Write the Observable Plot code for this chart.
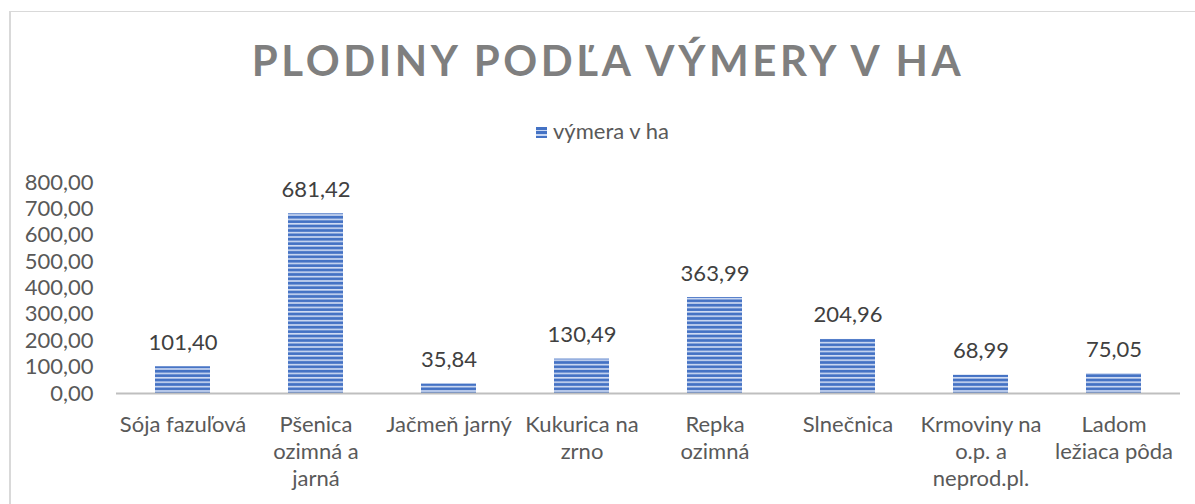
<!DOCTYPE html>
<html>
<head>
<meta charset="utf-8">
<script src="https://cdn.jsdelivr.net/npm/d3@7"></script>
<script src="https://cdn.jsdelivr.net/npm/@observablehq/plot@0.6"></script>
<style>
  html, body { margin: 0; padding: 0; background: #fff; width: 1195px; height: 504px; overflow: hidden; font-family: Lato, "Open Sans", sans-serif; }
  #frame { position: absolute; left: 9px; top: 11px; width: 1186px; height: 500px; border-left: 2px solid #d9d9d9; border-top: 1.5px solid #d9d9d9; }
  #title { position: absolute; left: 0; width: 1195px; top: 36px; text-align: center; font-size: 42px; font-weight: bold; letter-spacing: 3.6px; color: #7f7f7f; line-height: 48px; padding-left: 21px; box-sizing: border-box; }
  #legend { position: absolute; left: 0; width: 1195px; top: 117px; text-align: center; font-size: 22px; color: #595959; line-height: 28px; padding-left: 10px; box-sizing: border-box; }
  #legend .sw { display: inline-block; width: 11px; height: 11px; margin-right: 6px; vertical-align: 1px;
    background: repeating-linear-gradient(to bottom, #4472c4 0px, #4472c4 2.5px, #c9d7f2 2.5px, #c9d7f2 4.4px); }
  #chart { position: absolute; left: 0; top: 150px; }
</style>
</head>
<body>
<div id="frame"></div>
<div id="title">PLODINY PODĽA VÝMERY V HA</div>
<div id="legend"><span class="sw"></span>výmera v ha</div>
<div id="chart"></div>
<script>
const categories = ["Sója fazuľová", "Pšenica ozimná a jarná", "Jačmeň jarný", "Kukurica na zrno", "Repka ozimná", "Slnečnica", "Krmoviny na o.p. a neprod.pl.", "Ladom ležiaca pôda"];
const tickLabels = ["Sója fazuľová", "Pšenica\nozimná a\njarná", "Jačmeň jarný", "Kukurica na\nzrno", "Repka\nozimná", "Slnečnica", "Krmoviny na\no.p. a\nneprod.pl.", "Ladom\nležiaca pôda"];
const values = [101.40, 681.42, 35.84, 130.49, 363.99, 204.96, 68.99, 75.05];
const yTicks = [0, 100, 200, 300, 400, 500, 600, 700, 800];

const data = categories.map((c, i) => ({cat: c, label: tickLabels[i], v: values[i]}));
const fmt = v => v.toFixed(2).replace(".", ",");

const plot = Plot.plot({
  width: 1195,
  height: 354,
  marginTop: 32,
  marginBottom: 111,
  marginLeft: 116,
  marginRight: 15,
  style: {fontFamily: "Lato, 'Open Sans', sans-serif", fontSize: "22px", color: "#595959", background: "transparent"},
  x: {domain: categories, paddingInner: 0.59, paddingOuter: 0.295, label: null},
  y: {domain: [0, 800], label: null},
  marks: [
    Plot.barY(data, {x: "cat", y: "v", fill: "url(#stripes)"}),
    Plot.ruleY([0], {stroke: "#bfbfbf", strokeWidth: 2}),
    Plot.axisY({ticks: yTicks, tickSize: 0, tickPadding: 23, tickFormat: fmt, label: null, fill: "#595959", fontSize: 22}),
    Plot.axisX({tickSize: 0, tickPadding: 19, tickFormat: (d) => tickLabels[categories.indexOf(d)], label: null, fill: "#595959", fontSize: 22, lineHeight: 1.23}),
    Plot.text(data, {x: "cat", y: "v", text: d => fmt(d.v), dy: -24, fill: "#404040", fontSize: 22})
  ]
});

const defs = d3.select(plot).insert("defs", ":first-child");
const pat = defs.append("pattern").attr("id", "stripes").attr("patternUnits", "userSpaceOnUse")
  .attr("width", 10).attr("height", 4.4);
pat.append("rect").attr("width", 10).attr("height", 4.4).attr("fill", "#4472c4");
pat.append("rect").attr("y", 2.6).attr("width", 10).attr("height", 1.6).attr("fill", "#d0dcf3");

document.getElementById("chart").appendChild(plot);
</script>
</body>
</html>
